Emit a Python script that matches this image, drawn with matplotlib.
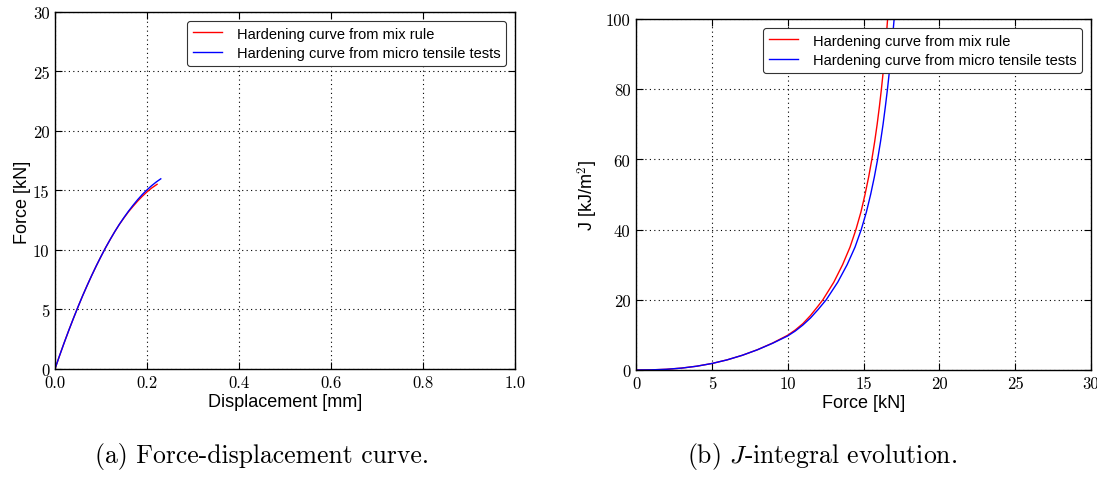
import matplotlib
matplotlib.use("Agg")
import matplotlib.pyplot as plt

# Force-displacement data [mm, kN]
disp_micro = [0, 0.01, 0.02, 0.03, 0.04, 0.05, 0.06, 0.07, 0.08, 0.09, 0.10, 0.11,
              0.12, 0.13, 0.14, 0.15, 0.16, 0.17, 0.18, 0.19, 0.20, 0.21, 0.22, 0.23]
force_micro = [0, 1.12, 2.20, 3.24, 4.24, 5.21, 6.14, 7.02, 7.87, 8.68, 9.45, 10.19,
               10.88, 11.54, 12.16, 12.73, 13.27, 13.77, 14.24, 14.67, 15.05, 15.40,
               15.71, 15.98]
disp_mix = [0, 0.01, 0.02, 0.03, 0.04, 0.05, 0.06, 0.07, 0.08, 0.09, 0.10, 0.11,
            0.12, 0.13, 0.14, 0.15, 0.16, 0.17, 0.18, 0.19, 0.20, 0.21, 0.222]
force_mix = [0, 1.12, 2.20, 3.24, 4.24, 5.21, 6.14, 7.02, 7.87, 8.68, 9.45, 10.19,
             10.88, 11.54, 12.15, 12.70, 13.22, 13.68, 14.12, 14.52, 14.88, 15.20,
             15.52]

# J-integral vs force data [kN, kJ/m^2]
jf_mix = [0, 1, 2, 3, 4, 5, 6, 7, 8, 9, 10, 10.5, 11, 11.5, 12, 12.32, 13.04,
          13.62, 14.11, 14.50, 14.83, 15.10, 15.34, 15.55, 15.735, 15.90, 16.047,
          16.18, 16.30, 16.41, 16.50, 16.59]
j_mix = [0, 0.04, 0.2, 0.54, 1.08, 1.85, 2.88, 4.18, 5.77, 7.67, 9.9, 11.4, 13.2,
         15.5, 18.2, 20.0, 25.0, 30.0, 35.0, 40.0, 45.0, 50.0, 55.0, 60.0, 65.0,
         70.0, 75.0, 80.0, 85.0, 90.0, 95.0, 100.0]
jf_micro = [0, 1, 2, 3, 4, 5, 6, 7, 8, 9, 10, 10.5, 11, 11.5, 12, 12.54, 13.30,
            13.92, 14.44, 14.85, 15.19, 15.47, 15.715, 15.93, 16.12, 16.29, 16.44,
            16.58, 16.705, 16.82, 16.92, 17.02]
j_micro = [0, 0.04, 0.2, 0.54, 1.08, 1.85, 2.88, 4.18, 5.75, 7.6, 9.7, 11.1, 12.8,
           14.8, 17.2, 20.0, 25.0, 30.0, 35.0, 40.0, 45.0, 50.0, 55.0, 60.0, 65.0,
           70.0, 75.0, 80.0, 85.0, 90.0, 95.0, 100.0]

label_mix = "Hardening curve from mix rule"
label_micro = "Hardening curve from micro tensile tests"

plt.rcParams["mathtext.fontset"] = "cm"
plt.rcParams["axes.unicode_minus"] = False

SANS = "Liberation Sans"
SERIF = "cmr10"

fig = plt.figure(figsize=(10.97, 4.81), dpi=100)
ax1 = fig.add_axes([0.0501, 0.2308, 0.4194, 0.7422])
ax2 = fig.add_axes([0.5798, 0.2287, 0.4147, 0.7297])


def style(ax, xticks, yticks, xlab, ylab):
    ax.set_xticks(xticks)
    ax.set_yticks(yticks)
    ax.set_xlim(xticks[0], xticks[-1])
    ax.set_ylim(yticks[0], yticks[-1])
    ax.tick_params(direction="in", top=True, right=True, length=5, width=0.8,
                   labelsize=12, pad=4)
    for lab in ax.get_xticklabels() + ax.get_yticklabels():
        lab.set_fontfamily(SERIF)
    ax.grid(True, color="black", linestyle=(0, (1, 3)), linewidth=0.8)
    ax.set_axisbelow(True)
    for sp in ax.spines.values():
        sp.set_linewidth(1.0)
    ax.set_xlabel(xlab, fontfamily=SANS, fontsize=13, labelpad=2)
    ax.set_ylabel(ylab, fontfamily=SANS, fontsize=13, labelpad=4)


ax1.plot(disp_mix, force_mix, color="red", lw=1.0, label=label_mix)
ax1.plot(disp_micro, force_micro, color="blue", lw=1.0, label=label_micro)
style(ax1, [0.0, 0.2, 0.4, 0.6, 0.8, 1.0], [0, 5, 10, 15, 20, 25, 30],
      "Displacement [mm]", "Force [kN]")
ax1.set_xticklabels(["0.0", "0.2", "0.4", "0.6", "0.8", "1.0"], fontfamily=SERIF)
ax1.yaxis.set_label_coords(-0.052, 0.47)

ax2.plot(jf_mix, j_mix, color="red", lw=1.0, label=label_mix)
ax2.plot(jf_micro, j_micro, color="blue", lw=1.0, label=label_micro)
style(ax2, [0, 5, 10, 15, 20, 25, 30], [0, 20, 40, 60, 80, 100],
      "Force [kN]", r"J [kJ/m$^2$]")

for ax in (ax1, ax2):
    leg = ax.legend(loc="upper right", prop={"family": SANS, "size": 10.5},
                    handlelength=2.0, handletextpad=1.0, borderaxespad=0.6,
                    fancybox=True, framealpha=1.0, labelspacing=0.4)
    leg.get_frame().set_edgecolor("#333333")
    leg.get_frame().set_linewidth(0.8)

fig.text(0.239, 0.05, "(a) Force-displacement curve.", ha="center",
         va="center", fontfamily=SERIF, fontsize=18.5)
fig.text(0.749, 0.05, r"(b) $J$-integral evolution.", ha="center",
         va="center", fontfamily=SERIF, fontsize=18.5)

fig.savefig("out.png", dpi=100)
